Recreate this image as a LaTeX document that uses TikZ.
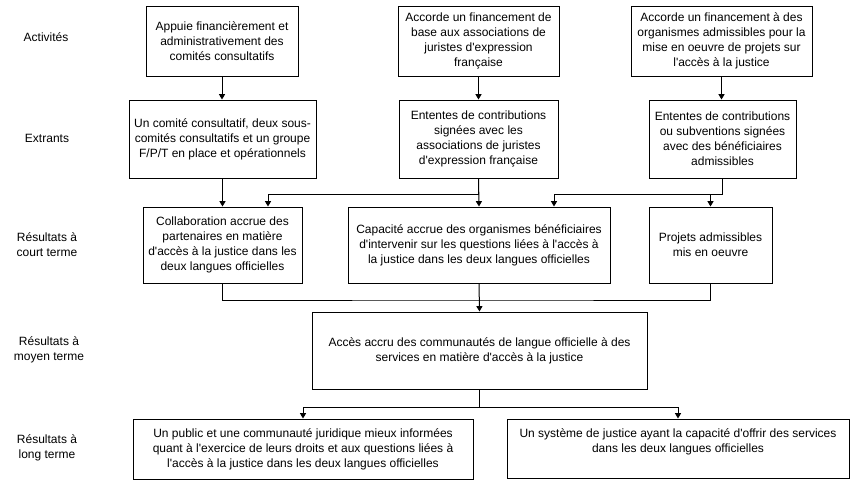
\documentclass[tikz,border=0pt]{standalone}
\usepackage{fontspec}
\setmainfont{Liberation Sans}[Ligatures=TeXOff]
\usetikzlibrary{arrows.meta}
\begin{document}
\begin{tikzpicture}[x=0.75pt,y=-0.75pt,
  every node/.style={font=\fontsize{9}{11.25}\selectfont, align=center, text=black},
  box/.style={draw=black, line width=0.75pt, inner sep=0pt},
  lbl/.style={inner sep=0pt},
  conn/.style={line width=0.75pt, draw=black},
  arr/.style={conn, -{Triangle[length=4pt,width=4.5pt]}}]
\useasboundingbox (0,0) rectangle (855,490);
% left labels
\node[lbl] (l1) at (46,37) {Activités};
\node[lbl] (l2) at (47,138) {Extrants};
\node[lbl] (l3) at (47,245) {Résultats à\\court terme};
\node[lbl] (l4) at (49,350) {Résultats à\\moyen terme};
\node[lbl] (l5) at (47,448) {Résultats à\\long terme};
% activities
\node[box, minimum width=152pt*0.75, minimum height=70*0.75pt] (A1) at (222,41) {Appuie financièrement et\\administrativement des\\comités consultatifs};
\node[box, minimum width=161*0.75pt, minimum height=70*0.75pt] (A2) at (478.5,41) {Accorde un financement de\\base aux associations de\\juristes d'expression\\française};
\node[box, minimum width=181*0.75pt, minimum height=70*0.75pt] (A3) at (721.5,41) {Accorde un financement à des\\organismes admissibles pour la\\mise en oeuvre de projets sur\\l'accès à la justice};
% outputs
\node[box, minimum width=187*0.75pt, minimum height=78*0.75pt] (E1) at (222.5,139) {Un comité consultatif, deux sous-\\comités consultatifs et un groupe\\F/P/T en place et opérationnels};
\node[box, minimum width=159*0.75pt, minimum height=78*0.75pt] (E2) at (478.5,139) {Ententes de contributions\\signées avec les\\associations de juristes\\d'expression française};
\node[box, minimum width=147*0.75pt, minimum height=78*0.75pt] (E3) at (722.5,139) {Ententes de contributions\\ou subventions signées\\avec des bénéficiaires\\admissibles};
% short term
\node[box, minimum width=159*0.75pt, minimum height=76*0.75pt] (R1) at (222.5,245) {Collaboration accrue des\\partenaires en matière\\d'accès à la justice dans les\\deux langues officielles};
\node[box, minimum width=262*0.75pt, minimum height=76*0.75pt] (R2) at (479,245) {Capacité accrue des organismes bénéficiaires\\d'intervenir sur les questions liées à l'accès à\\la justice dans les deux langues officielles};
\node[box, minimum width=123*0.75pt, minimum height=76*0.75pt] (R3) at (710.5,245) {Projets admissibles\\mis en oeuvre};
% medium term
\node[box, minimum width=335*0.75pt, minimum height=77*0.75pt] (M) at (479.5,350.5) {Accès accru des communautés de langue officielle à des\\services en matière d'accès à la justice};
% long term
\node[box, minimum width=340*0.75pt, minimum height=60*0.75pt] (L1) at (303,449) {Un public et une communauté juridique mieux informées\\quant à l'exercice de leurs droits et aux questions liées à\\l'accès à la justice dans les deux langues officielles};
\node[box, minimum width=342*0.75pt, minimum height=59*0.75pt] (L2) at (678,448.5) {Un système de justice ayant la capacité d'offrir des services\\dans les deux langues officielles\\\mbox{}};
% junction coordinates
\coordinate (k1) at (268,194);
\coordinate (k2) at (554,194);
\coordinate (k3) at (479,300);
\coordinate (k4) at (479,407);
% connectors
\draw[arr] (A1.south) -- (E1.north -| A1.south);
\draw[arr] (A2.south) -- (E2.north -| A2.south);
\draw[arr] (A3.south) -- (E3.north -| A3.south);
\draw[arr] (E1.south) -- (R1.north -| E1.south);
\draw[arr] (E2.south) -- (R2.north);
\draw[arr] (E2.south) |- (k1) -- (k1 |- R1.north);
\draw[arr] (E3.south) |- (k2) -- (k2 |- R2.north);
\draw[arr] (R3.north |- k2) -- (R3.north);
\draw[conn] (R1.south) |- (k3) -| (R3.south);
\draw[arr] (R2.south) -- (M.north);
\draw[arr] (M.south) |- (L1.north |- k4) -- (L1.north);
\draw[arr] (M.south) |- (L2.north |- k4) -- (L2.north);
\end{tikzpicture}
\end{document}
